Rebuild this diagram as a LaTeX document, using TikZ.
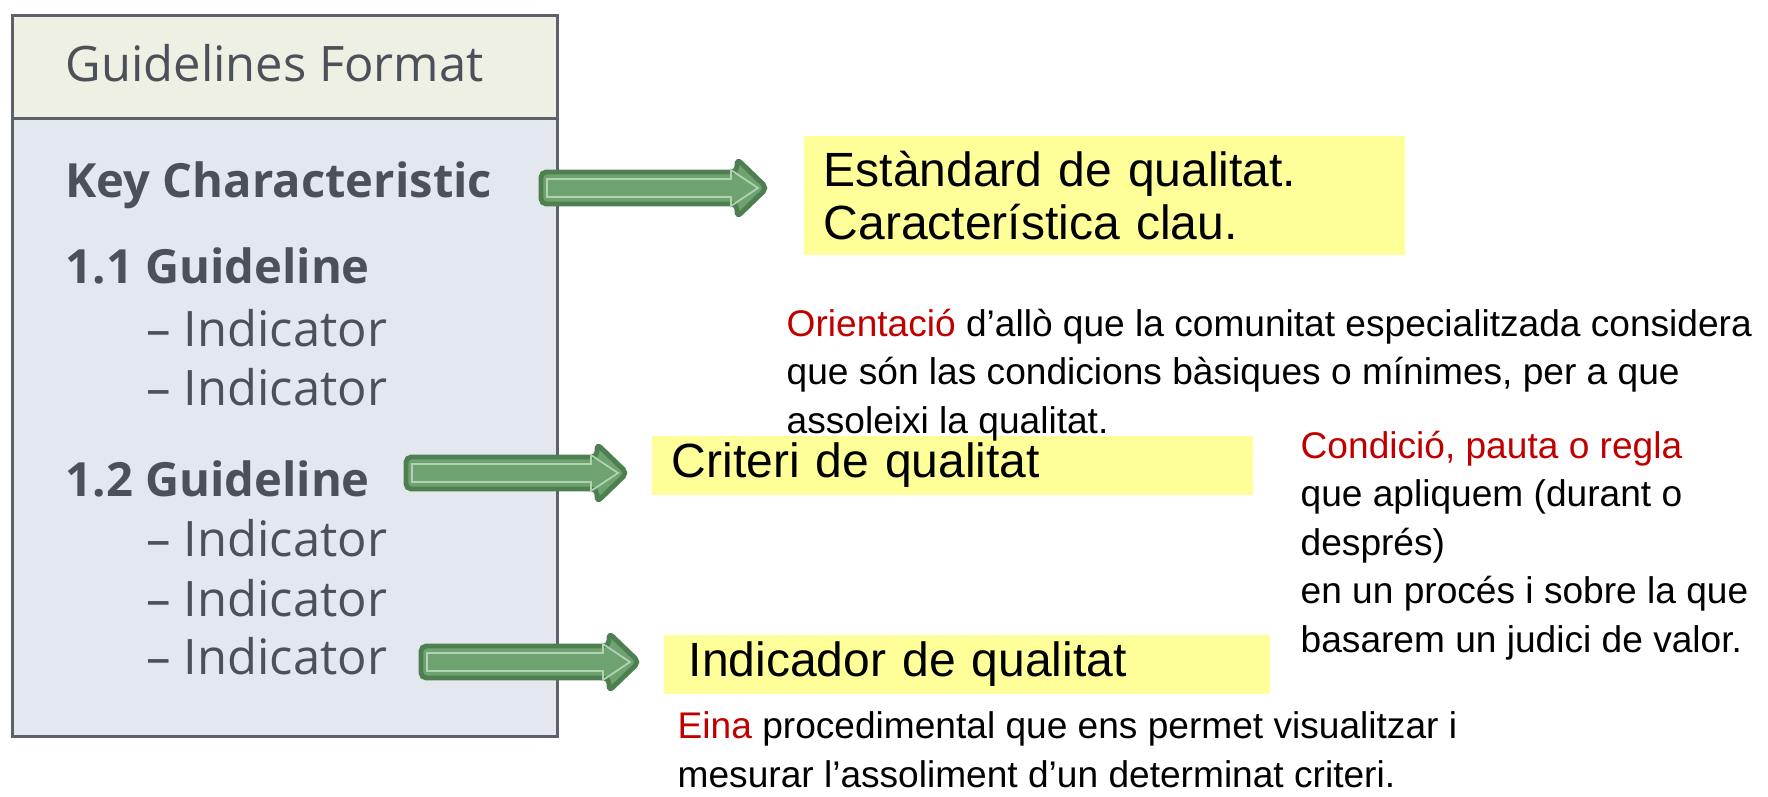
\documentclass[tikz,border=0pt]{standalone}
\usepackage{fontspec}
\setmainfont{Liberation Sans}
\newfontfamily\guidefont{Open Sans}
\usepackage{xcolor}
\usetikzlibrary{positioning, calc}

\definecolor{headfill}{HTML}{EEF0E4}
\definecolor{bodyfill}{HTML}{E3E7EE}
\definecolor{guidegray}{HTML}{4C5058}
\definecolor{boxyellow}{HTML}{FFFF99}
\definecolor{darkred}{HTML}{C00000}
\definecolor{arrowfill}{HTML}{6FA271}
\definecolor{arrowedge}{HTML}{4E7F50}
\definecolor{arrowlight}{HTML}{B2D2B2}

% block arrow from one named point to another
\newcommand{\greenarrow}[2]{%
  \draw[arrowedge, fill=arrowfill, line width=1.4pt, rounded corners=1.5pt]
    ($(#1)+(0,-16)$) -- ($(#2)+(-30,-16)$) -- ($(#2)+(-30,-29)$) -- (#2)
    -- ($(#2)+(-30,29)$) -- ($(#2)+(-30,16)$) -- ($(#1)+(0,16)$) -- cycle;
  \draw[arrowlight, line width=0.5pt]
    ($(#1)+(6,-9)$) -- ($(#2)+(-36,-9)$) -- ($(#2)+(-36,-18)$) -- ($(#2)+(-9,0)$)
    -- ($(#2)+(-36,18)$) -- ($(#2)+(-36,9)$) -- ($(#1)+(6,9)$) -- cycle;
}

\begin{document}
\begin{tikzpicture}[x=0.01cm, y=-0.01cm,
    guide/.style={anchor=base west, inner sep=0pt, text=guidegray,
      font=\guidefont\fontsize{13.9pt}{16pt}\selectfont},
    guidebold/.style={guide, font=\guidefont\bfseries\fontsize{13.4pt}{16pt}\selectfont},
    ybox/.style={fill=boxyellow, anchor=north west, inner xsep=0.2cm, inner ysep=0pt,
      align=left, font=\fontsize{13.66pt}{15.1pt}\selectfont},
    desc/.style={anchor=base west, inner sep=0pt, align=left,
      font=\fontsize{10.55pt}{13.75pt}\selectfont}]
  \useasboundingbox (0,0) rectangle (1768,797);

  % left panel
  \node[draw=guidegray!90, line width=0.8pt, fill=headfill, anchor=north west,
    minimum width=5.45cm, minimum height=1.03cm] (head) at (11,14) {};
  \node[draw=guidegray!90, line width=0.8pt, fill=bodyfill, anchor=north west,
    minimum width=5.45cm, minimum height=6.18cm] (body) at (11,117) {};
  \node[guide] (title) at (65,81) {Guidelines Format};
  \node[guidebold] (key) at (65,197) {Key Characteristic};
  \node[guidebold] (g11) at (65,284) {1.1 Guideline};
  \node[guide] (i1) at (146,346) {– Indicator};
  \node[guide] (i2) at (146,406) {– Indicator};
  \node[guidebold] (g12) at (65,496) {1.2 Guideline};
  \node[guide] (i3) at (146,556) {– Indicator};
  \node[guide] (i4) at (146,616) {– Indicator};
  \node[guide] (i5) at (146,674) {– Indicator};

  % yellow boxes
  \node[ybox, minimum width=6.01cm, minimum height=1.19cm, text width=5.61cm]
    (std) at (803,135) {Estàndard de qualitat.\\Característica clau.};
  \node[ybox, minimum width=6.01cm, minimum height=0.59cm, text width=5.61cm]
    (crit) at (651,435) {Criteri de qualitat};
  \node[ybox, minimum width=6.06cm, minimum height=0.59cm, text width=5.56cm,
    inner xsep=0.25cm] (ind) at (663,634) {Indicador de qualitat};

  % explanations (placed by their last line)
  \node[desc] (d1) at (786,433) {\textcolor{darkred}{Orientació} d’allò que la comunitat especialitzada considera\\
    que són las condicions bàsiques o mínimes, per a que\\
    assoleixi la qualitat.};
  \node[desc] (d2) at (1300,652) {\textcolor{darkred}{Condició, pauta o regla}\\
    que apliquem (durant o\\
    després)\\
    en un procés i sobre la que\\
    basarem un judici de valor.};
  \node[desc] (d3) at (677,787) {\textcolor{darkred}{Eina} procedimental que ens permet visualitzar i\\
    mesurar l’assoliment d’un determinat criteri.};

  % arrows
  \coordinate (a1) at (541,188);
  \coordinate (b1) at (767,188);
  \coordinate (a2) at (406,473);
  \coordinate (b2) at (627,473);
  \coordinate (a3) at (421,662);
  \coordinate (b3) at (639,662);
  \greenarrow{a1}{b1}
  \greenarrow{a2}{b2}
  \greenarrow{a3}{b3}
\end{tikzpicture}
\end{document}
